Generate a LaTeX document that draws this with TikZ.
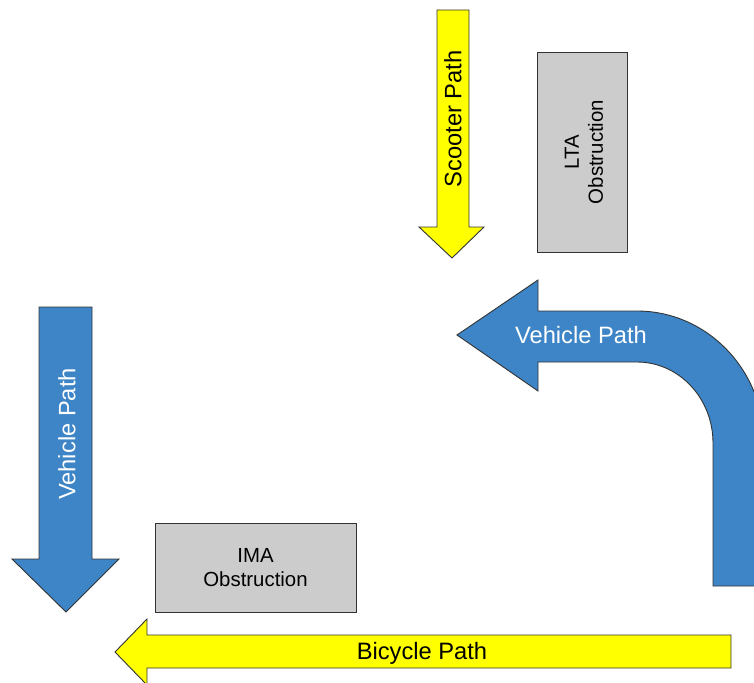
\documentclass[tikz,border=0pt]{standalone}
\usepackage{fontspec}
\setmainfont{Liberation Sans}
\definecolor{pathblue}{HTML}{3D85C6}
\definecolor{pathyellow}{HTML}{FFFF00}
\definecolor{obsgray}{HTML}{CCCCCC}
\definecolor{edge}{HTML}{333333}
\begin{document}
\begin{tikzpicture}[x=1pt,y=-1pt,
  shapeline/.style={draw=edge,line width=0.9pt,line join=miter},
  bluearrow/.style={shapeline,fill=pathblue},
  yellowarrow/.style={shapeline,fill=pathyellow},
  obsbox/.style={shapeline,fill=obsgray},
  bigtext/.style={font=\fontsize{23.7}{28}\selectfont,inner sep=0pt},
  smalltext/.style={font=\fontsize{20.4}{24}\selectfont,inner sep=0pt,align=center}]
\useasboundingbox (0,0) rectangle (754,682);
\clip (0,0) rectangle (754,682);
% Scooter path (yellow, down)
\draw[yellowarrow] (437,10) -- (469,10) -- (469,227) -- (484,227) -- (452,258)
  -- (419,227) -- (437,227) -- cycle;
\node[bigtext,rotate=90,text=black] (scooter) at (453,119) {Scooter Path};
% LTA obstruction
\draw[obsbox] (537,52) rectangle (627,252);
\node[smalltext,rotate=90] (lta) at (584,152) {LTA\\Obstruction};
% Curved vehicle path
\draw[bluearrow] (457,335) -- (538,280) -- (538,311) -- (637,311)
  .. controls (707.1,311) and (764,370.1) .. (764,443)
  -- (764,586) -- (713,586) -- (713,443)
  .. controls (713,398.3) and (679,362) .. (637,362)
  -- (538,362) -- (538,391) -- cycle;
\node[bigtext,text=white] (vcurve) at (581,335) {Vehicle Path};
% Left vehicle path (blue, down)
\draw[bluearrow] (39,307) -- (92,307) -- (92,559) -- (119,559) -- (66,612)
  -- (12,559) -- (39,559) -- cycle;
\node[bigtext,rotate=90,text=white] (vleft) at (67,434) {Vehicle Path};
% IMA obstruction
\draw[obsbox] (155,523) rectangle (356,612);
\node[smalltext] (ima) at (255.5,568) {IMA\\Obstruction};
% Bicycle path (yellow, left)
\draw[yellowarrow] (115,652) -- (147,619) -- (147,635) -- (731,635) -- (731,668)
  -- (147,668) -- (147,685) -- cycle;
\node[bigtext,text=black] (bicycle) at (422,653) {Bicycle Path};
\end{tikzpicture}
\end{document}
